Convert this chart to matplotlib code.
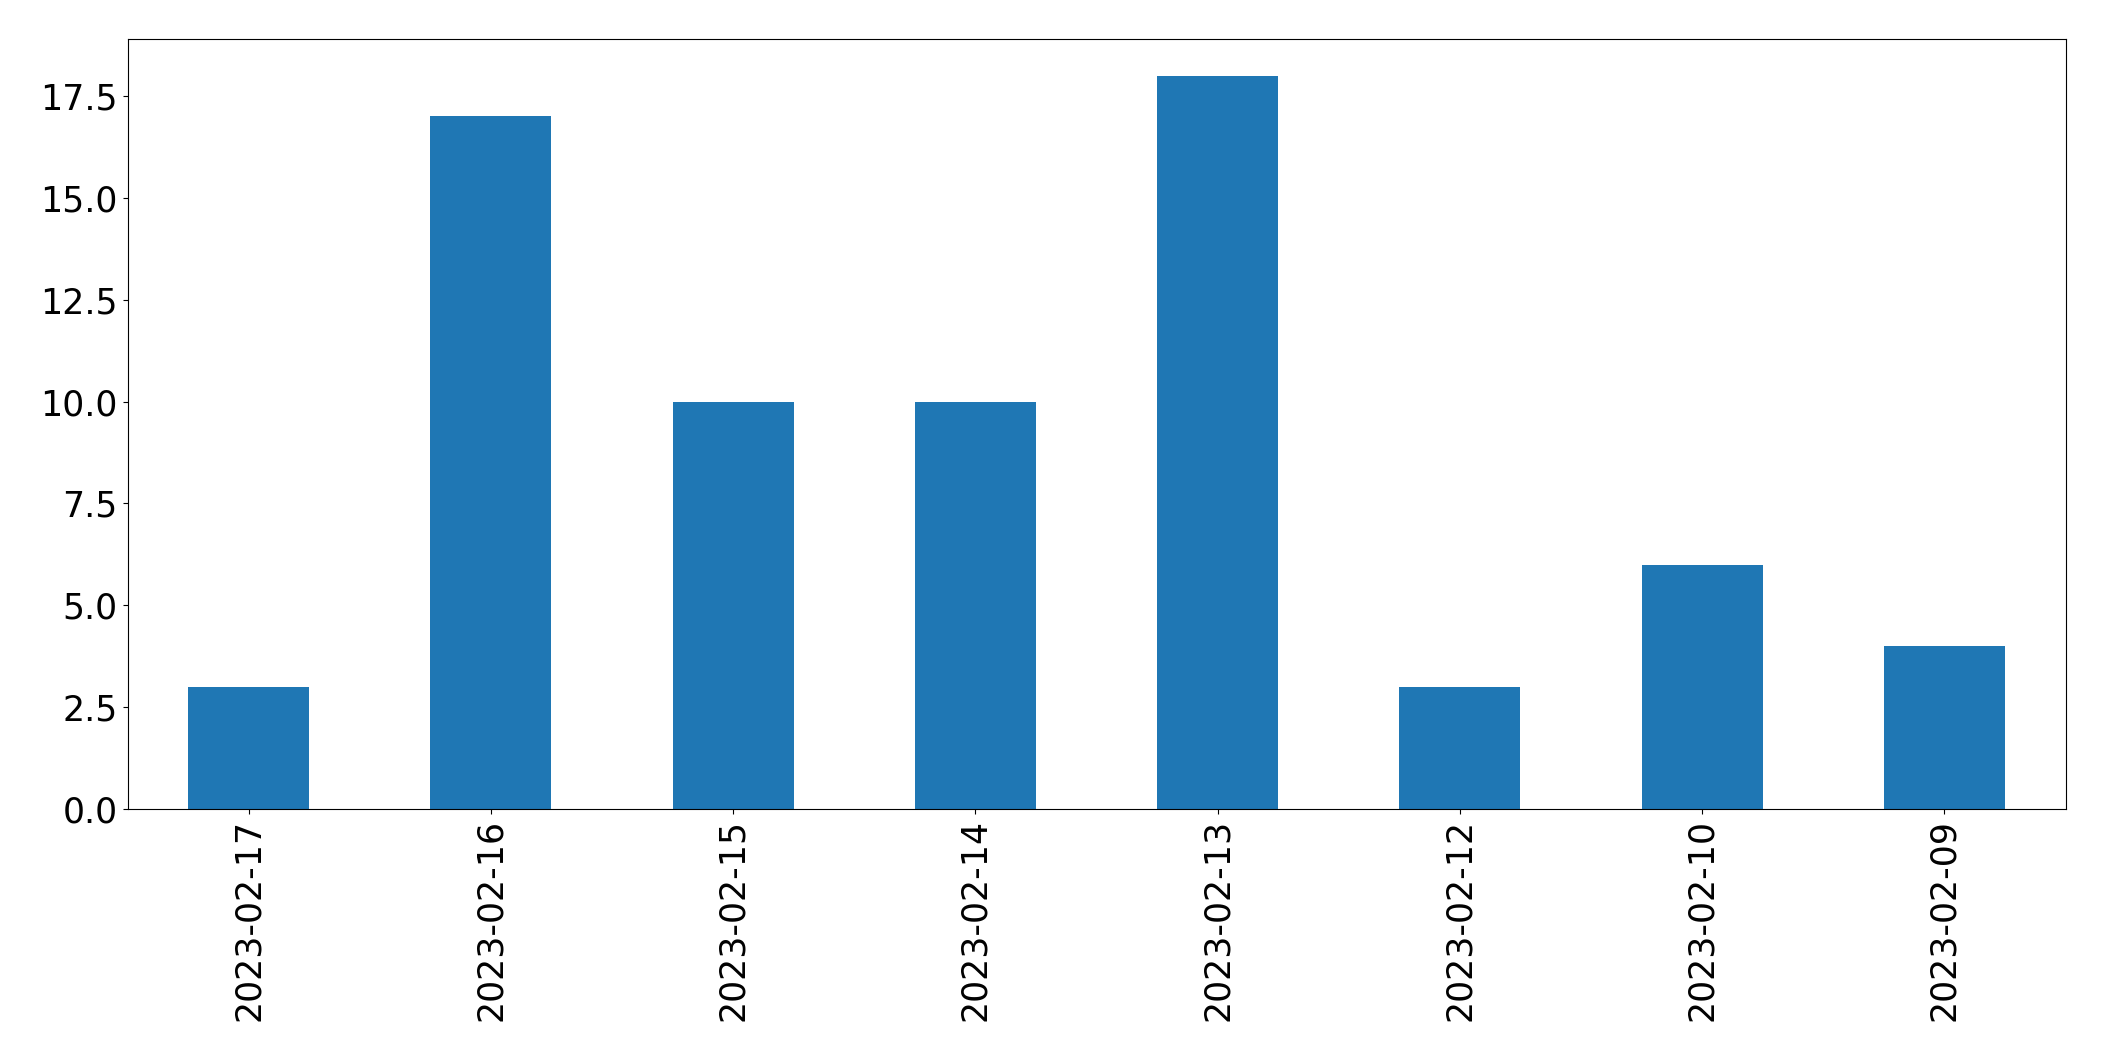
import matplotlib
matplotlib.use("Agg")
import matplotlib.pyplot as plt
import pandas as pd

dates = ["2023-02-17", "2023-02-16", "2023-02-15", "2023-02-14",
         "2023-02-13", "2023-02-12", "2023-02-10", "2023-02-09"]
counts = [3, 17, 10, 10, 18, 3, 6, 4]

s = pd.Series(counts, index=dates)

fig = plt.figure(figsize=(21.04, 10.61), dpi=100)
ax = fig.add_axes([127.5 / 2104, 1 - 809 / 1061, (2065.5 - 127.5) / 2104, (809 - 39) / 1061])
s.plot.bar(ax=ax, color="#1f77b4", fontsize=25)
ax.tick_params(axis="x", labelrotation=90)
fig.savefig("out.png", dpi=100)
